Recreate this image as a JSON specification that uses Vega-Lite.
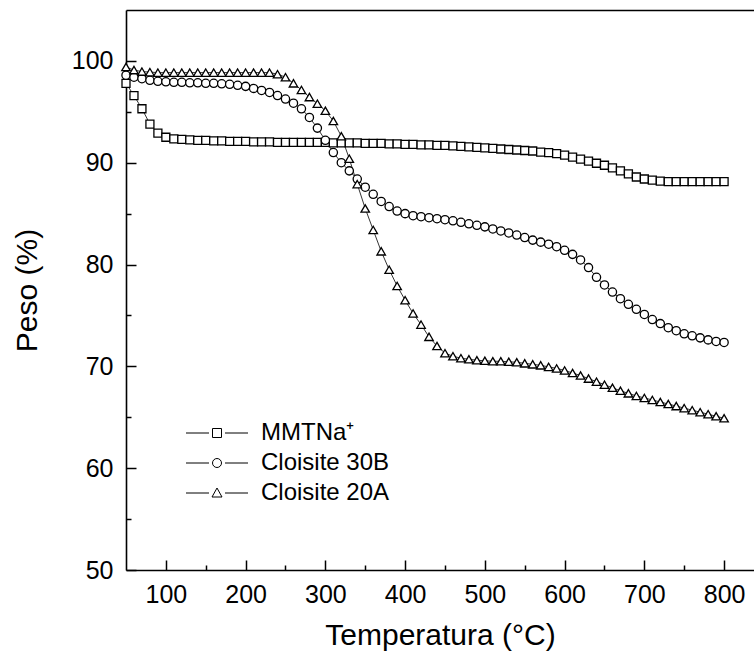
{
"$schema":"https://vega.github.io/schema/vega-lite/v6.json",
"width":628,"height":560,
"autosize":"none",
"padding":{"left":126,"top":10,"right":0,"bottom":86},
"config":{"view":{"stroke":null},"font":"Liberation Sans","background":"white"},
"datasets":{"d":[
{"t":50,"w":97.8,"s":"MMTNa⁺"},{"t":60,"w":96.6,"s":"MMTNa⁺"},{"t":70,"w":95.3,"s":"MMTNa⁺"},{"t":80,"w":93.8,"s":"MMTNa⁺"},{"t":90,"w":92.9,"s":"MMTNa⁺"},{"t":100,"w":92.5,"s":"MMTNa⁺"},{"t":110,"w":92.35,"s":"MMTNa⁺"},{"t":120,"w":92.3,"s":"MMTNa⁺"},{"t":130,"w":92.25,"s":"MMTNa⁺"},{"t":140,"w":92.2,"s":"MMTNa⁺"},{"t":150,"w":92.2,"s":"MMTNa⁺"},{"t":160,"w":92.15,"s":"MMTNa⁺"},{"t":170,"w":92.15,"s":"MMTNa⁺"},{"t":180,"w":92.1,"s":"MMTNa⁺"},{"t":190,"w":92.1,"s":"MMTNa⁺"},{"t":200,"w":92.1,"s":"MMTNa⁺"},{"t":210,"w":92.05,"s":"MMTNa⁺"},{"t":220,"w":92.05,"s":"MMTNa⁺"},{"t":230,"w":92.05,"s":"MMTNa⁺"},{"t":240,"w":92.0,"s":"MMTNa⁺"},{"t":250,"w":92.0,"s":"MMTNa⁺"},{"t":260,"w":92.0,"s":"MMTNa⁺"},{"t":270,"w":92.0,"s":"MMTNa⁺"},{"t":280,"w":92.0,"s":"MMTNa⁺"},{"t":290,"w":92.0,"s":"MMTNa⁺"},{"t":300,"w":92.0,"s":"MMTNa⁺"},{"t":310,"w":91.95,"s":"MMTNa⁺"},{"t":320,"w":91.95,"s":"MMTNa⁺"},{"t":330,"w":91.95,"s":"MMTNa⁺"},{"t":340,"w":91.95,"s":"MMTNa⁺"},{"t":350,"w":91.9,"s":"MMTNa⁺"},{"t":360,"w":91.9,"s":"MMTNa⁺"},{"t":370,"w":91.9,"s":"MMTNa⁺"},{"t":380,"w":91.85,"s":"MMTNa⁺"},{"t":390,"w":91.85,"s":"MMTNa⁺"},{"t":400,"w":91.8,"s":"MMTNa⁺"},{"t":410,"w":91.8,"s":"MMTNa⁺"},{"t":420,"w":91.75,"s":"MMTNa⁺"},{"t":430,"w":91.75,"s":"MMTNa⁺"},{"t":440,"w":91.7,"s":"MMTNa⁺"},{"t":450,"w":91.7,"s":"MMTNa⁺"},{"t":460,"w":91.65,"s":"MMTNa⁺"},{"t":470,"w":91.6,"s":"MMTNa⁺"},{"t":480,"w":91.55,"s":"MMTNa⁺"},{"t":490,"w":91.5,"s":"MMTNa⁺"},{"t":500,"w":91.45,"s":"MMTNa⁺"},{"t":510,"w":91.4,"s":"MMTNa⁺"},{"t":520,"w":91.35,"s":"MMTNa⁺"},{"t":530,"w":91.3,"s":"MMTNa⁺"},{"t":540,"w":91.25,"s":"MMTNa⁺"},{"t":550,"w":91.2,"s":"MMTNa⁺"},{"t":560,"w":91.15,"s":"MMTNa⁺"},{"t":570,"w":91.05,"s":"MMTNa⁺"},{"t":580,"w":91.0,"s":"MMTNa⁺"},{"t":590,"w":90.9,"s":"MMTNa⁺"},{"t":600,"w":90.75,"s":"MMTNa⁺"},{"t":610,"w":90.55,"s":"MMTNa⁺"},{"t":620,"w":90.35,"s":"MMTNa⁺"},{"t":630,"w":90.15,"s":"MMTNa⁺"},{"t":640,"w":89.95,"s":"MMTNa⁺"},{"t":650,"w":89.75,"s":"MMTNa⁺"},{"t":660,"w":89.5,"s":"MMTNa⁺"},{"t":670,"w":89.2,"s":"MMTNa⁺"},{"t":680,"w":88.9,"s":"MMTNa⁺"},{"t":690,"w":88.6,"s":"MMTNa⁺"},{"t":700,"w":88.4,"s":"MMTNa⁺"},{"t":710,"w":88.3,"s":"MMTNa⁺"},{"t":720,"w":88.2,"s":"MMTNa⁺"},{"t":730,"w":88.15,"s":"MMTNa⁺"},{"t":740,"w":88.15,"s":"MMTNa⁺"},{"t":750,"w":88.15,"s":"MMTNa⁺"},{"t":760,"w":88.15,"s":"MMTNa⁺"},{"t":770,"w":88.15,"s":"MMTNa⁺"},{"t":780,"w":88.15,"s":"MMTNa⁺"},{"t":790,"w":88.15,"s":"MMTNa⁺"},{"t":800,"w":88.15,"s":"MMTNa⁺"},
{"t":50,"w":98.6,"s":"Cloisite 30B"},{"t":60,"w":98.4,"s":"Cloisite 30B"},{"t":70,"w":98.25,"s":"Cloisite 30B"},{"t":80,"w":98.1,"s":"Cloisite 30B"},{"t":90,"w":98.0,"s":"Cloisite 30B"},{"t":100,"w":97.95,"s":"Cloisite 30B"},{"t":110,"w":97.9,"s":"Cloisite 30B"},{"t":120,"w":97.9,"s":"Cloisite 30B"},{"t":130,"w":97.85,"s":"Cloisite 30B"},{"t":140,"w":97.85,"s":"Cloisite 30B"},{"t":150,"w":97.8,"s":"Cloisite 30B"},{"t":160,"w":97.8,"s":"Cloisite 30B"},{"t":170,"w":97.75,"s":"Cloisite 30B"},{"t":180,"w":97.7,"s":"Cloisite 30B"},{"t":190,"w":97.6,"s":"Cloisite 30B"},{"t":200,"w":97.5,"s":"Cloisite 30B"},{"t":210,"w":97.3,"s":"Cloisite 30B"},{"t":220,"w":97.1,"s":"Cloisite 30B"},{"t":230,"w":96.9,"s":"Cloisite 30B"},{"t":240,"w":96.6,"s":"Cloisite 30B"},{"t":250,"w":96.25,"s":"Cloisite 30B"},{"t":260,"w":95.85,"s":"Cloisite 30B"},{"t":270,"w":95.3,"s":"Cloisite 30B"},{"t":280,"w":94.45,"s":"Cloisite 30B"},{"t":290,"w":93.4,"s":"Cloisite 30B"},{"t":300,"w":92.2,"s":"Cloisite 30B"},{"t":310,"w":91.0,"s":"Cloisite 30B"},{"t":320,"w":90.0,"s":"Cloisite 30B"},{"t":330,"w":89.2,"s":"Cloisite 30B"},{"t":340,"w":88.4,"s":"Cloisite 30B"},{"t":350,"w":87.6,"s":"Cloisite 30B"},{"t":360,"w":86.9,"s":"Cloisite 30B"},{"t":370,"w":86.2,"s":"Cloisite 30B"},{"t":380,"w":85.7,"s":"Cloisite 30B"},{"t":390,"w":85.25,"s":"Cloisite 30B"},{"t":400,"w":85.0,"s":"Cloisite 30B"},{"t":410,"w":84.8,"s":"Cloisite 30B"},{"t":420,"w":84.7,"s":"Cloisite 30B"},{"t":430,"w":84.6,"s":"Cloisite 30B"},{"t":440,"w":84.5,"s":"Cloisite 30B"},{"t":450,"w":84.4,"s":"Cloisite 30B"},{"t":460,"w":84.3,"s":"Cloisite 30B"},{"t":470,"w":84.15,"s":"Cloisite 30B"},{"t":480,"w":84.0,"s":"Cloisite 30B"},{"t":490,"w":83.85,"s":"Cloisite 30B"},{"t":500,"w":83.7,"s":"Cloisite 30B"},{"t":510,"w":83.5,"s":"Cloisite 30B"},{"t":520,"w":83.3,"s":"Cloisite 30B"},{"t":530,"w":83.1,"s":"Cloisite 30B"},{"t":540,"w":82.9,"s":"Cloisite 30B"},{"t":550,"w":82.65,"s":"Cloisite 30B"},{"t":560,"w":82.4,"s":"Cloisite 30B"},{"t":570,"w":82.2,"s":"Cloisite 30B"},{"t":580,"w":82.0,"s":"Cloisite 30B"},{"t":590,"w":81.75,"s":"Cloisite 30B"},{"t":600,"w":81.4,"s":"Cloisite 30B"},{"t":610,"w":81.0,"s":"Cloisite 30B"},{"t":620,"w":80.45,"s":"Cloisite 30B"},{"t":630,"w":79.7,"s":"Cloisite 30B"},{"t":640,"w":78.75,"s":"Cloisite 30B"},{"t":650,"w":78.0,"s":"Cloisite 30B"},{"t":660,"w":77.3,"s":"Cloisite 30B"},{"t":670,"w":76.65,"s":"Cloisite 30B"},{"t":680,"w":76.1,"s":"Cloisite 30B"},{"t":690,"w":75.6,"s":"Cloisite 30B"},{"t":700,"w":75.1,"s":"Cloisite 30B"},{"t":710,"w":74.6,"s":"Cloisite 30B"},{"t":720,"w":74.2,"s":"Cloisite 30B"},{"t":730,"w":73.8,"s":"Cloisite 30B"},{"t":740,"w":73.5,"s":"Cloisite 30B"},{"t":750,"w":73.2,"s":"Cloisite 30B"},{"t":760,"w":73.0,"s":"Cloisite 30B"},{"t":770,"w":72.8,"s":"Cloisite 30B"},{"t":780,"w":72.6,"s":"Cloisite 30B"},{"t":790,"w":72.45,"s":"Cloisite 30B"},{"t":800,"w":72.35,"s":"Cloisite 30B"},
{"t":50,"w":99.4,"s":"Cloisite 20A"},{"t":60,"w":99.1,"s":"Cloisite 20A"},{"t":70,"w":98.95,"s":"Cloisite 20A"},{"t":80,"w":98.9,"s":"Cloisite 20A"},{"t":90,"w":98.85,"s":"Cloisite 20A"},{"t":100,"w":98.85,"s":"Cloisite 20A"},{"t":110,"w":98.85,"s":"Cloisite 20A"},{"t":120,"w":98.85,"s":"Cloisite 20A"},{"t":130,"w":98.85,"s":"Cloisite 20A"},{"t":140,"w":98.85,"s":"Cloisite 20A"},{"t":150,"w":98.85,"s":"Cloisite 20A"},{"t":160,"w":98.85,"s":"Cloisite 20A"},{"t":170,"w":98.85,"s":"Cloisite 20A"},{"t":180,"w":98.85,"s":"Cloisite 20A"},{"t":190,"w":98.85,"s":"Cloisite 20A"},{"t":200,"w":98.85,"s":"Cloisite 20A"},{"t":210,"w":98.85,"s":"Cloisite 20A"},{"t":220,"w":98.85,"s":"Cloisite 20A"},{"t":230,"w":98.85,"s":"Cloisite 20A"},{"t":240,"w":98.7,"s":"Cloisite 20A"},{"t":250,"w":98.4,"s":"Cloisite 20A"},{"t":260,"w":97.8,"s":"Cloisite 20A"},{"t":270,"w":97.15,"s":"Cloisite 20A"},{"t":280,"w":96.45,"s":"Cloisite 20A"},{"t":290,"w":95.8,"s":"Cloisite 20A"},{"t":300,"w":95.1,"s":"Cloisite 20A"},{"t":310,"w":94.1,"s":"Cloisite 20A"},{"t":320,"w":92.6,"s":"Cloisite 20A"},{"t":330,"w":90.4,"s":"Cloisite 20A"},{"t":340,"w":87.9,"s":"Cloisite 20A"},{"t":350,"w":85.5,"s":"Cloisite 20A"},{"t":360,"w":83.4,"s":"Cloisite 20A"},{"t":370,"w":81.3,"s":"Cloisite 20A"},{"t":380,"w":79.5,"s":"Cloisite 20A"},{"t":390,"w":77.9,"s":"Cloisite 20A"},{"t":400,"w":76.5,"s":"Cloisite 20A"},{"t":410,"w":75.2,"s":"Cloisite 20A"},{"t":420,"w":74.1,"s":"Cloisite 20A"},{"t":430,"w":72.9,"s":"Cloisite 20A"},{"t":440,"w":72.0,"s":"Cloisite 20A"},{"t":450,"w":71.3,"s":"Cloisite 20A"},{"t":460,"w":71.0,"s":"Cloisite 20A"},{"t":470,"w":70.8,"s":"Cloisite 20A"},{"t":480,"w":70.7,"s":"Cloisite 20A"},{"t":490,"w":70.6,"s":"Cloisite 20A"},{"t":500,"w":70.55,"s":"Cloisite 20A"},{"t":510,"w":70.5,"s":"Cloisite 20A"},{"t":520,"w":70.5,"s":"Cloisite 20A"},{"t":530,"w":70.45,"s":"Cloisite 20A"},{"t":540,"w":70.4,"s":"Cloisite 20A"},{"t":550,"w":70.3,"s":"Cloisite 20A"},{"t":560,"w":70.2,"s":"Cloisite 20A"},{"t":570,"w":70.1,"s":"Cloisite 20A"},{"t":580,"w":69.95,"s":"Cloisite 20A"},{"t":590,"w":69.8,"s":"Cloisite 20A"},{"t":600,"w":69.6,"s":"Cloisite 20A"},{"t":610,"w":69.35,"s":"Cloisite 20A"},{"t":620,"w":69.1,"s":"Cloisite 20A"},{"t":630,"w":68.8,"s":"Cloisite 20A"},{"t":640,"w":68.5,"s":"Cloisite 20A"},{"t":650,"w":68.2,"s":"Cloisite 20A"},{"t":660,"w":67.9,"s":"Cloisite 20A"},{"t":670,"w":67.6,"s":"Cloisite 20A"},{"t":680,"w":67.35,"s":"Cloisite 20A"},{"t":690,"w":67.1,"s":"Cloisite 20A"},{"t":700,"w":66.9,"s":"Cloisite 20A"},{"t":710,"w":66.7,"s":"Cloisite 20A"},{"t":720,"w":66.5,"s":"Cloisite 20A"},{"t":730,"w":66.3,"s":"Cloisite 20A"},{"t":740,"w":66.1,"s":"Cloisite 20A"},{"t":750,"w":65.9,"s":"Cloisite 20A"},{"t":760,"w":65.7,"s":"Cloisite 20A"},{"t":770,"w":65.5,"s":"Cloisite 20A"},{"t":780,"w":65.3,"s":"Cloisite 20A"},{"t":790,"w":65.1,"s":"Cloisite 20A"},{"t":800,"w":64.9,"s":"Cloisite 20A"}
]},
"data":{"name":"d"},
"resolve":{"scale":{"shape":"independent"},"axis":{"x":"independent","y":"independent"}},
"layer":[
{"mark":{"type":"line","color":"black","strokeWidth":0.8},
 "encoding":{
  "x":{"field":"t","type":"quantitative","scale":{"domain":[50,837.5],"nice":false,"zero":false},
   "axis":{"orient":"bottom","values":[100,150,200,250,300,350,400,450,500,550,600,650,700,750,800],
    "labelExpr":"datum.value % 100 === 0 ? datum.label : ''",
    "tickSize":{"condition":{"test":"datum.value % 100 === 0","value":-10},"value":-5},
    "tickColor":"black","tickWidth":1.5,"domainColor":"black","domainWidth":1.6,
    "labelFontSize":25,"labelColor":"black","labelPadding":22,"labelFlush":false,
    "title":"Temperatura (°C)","titleFontSize":30,"titleFontWeight":"normal","titleColor":"black","titlePadding":13,"grid":false}},
  "y":{"field":"w","type":"quantitative","scale":{"domain":[50,105],"nice":false,"zero":false},
   "axis":{"orient":"left","values":[50,55,60,65,70,75,80,85,90,95,100],
    "labelExpr":"datum.value % 10 === 0 ? datum.label : ''",
    "tickSize":{"condition":{"test":"datum.value % 10 === 0","value":-10},"value":-5},
    "tickColor":"black","tickWidth":1.5,"domainColor":"black","domainWidth":1.6,
    "labelFontSize":25,"labelColor":"black","labelPadding":23,"labelFlush":false,
    "title":"Peso (%)","titleFontSize":30,"titleFontWeight":"normal","titleColor":"black","titlePadding":29,"grid":false}},
  "detail":{"field":"s"}
 }},
{"mark":{"type":"point","filled":true,"fill":"white","stroke":"black","strokeWidth":1.3,"opacity":1},
 "encoding":{
  "x":{"field":"t","type":"quantitative","axis":null},
  "y":{"field":"w","type":"quantitative","axis":null},
  "shape":{"field":"s","type":"nominal","scale":{"domain":["MMTNa⁺","Cloisite 30B","Cloisite 20A"],"range":["square","circle","triangle-up"]},"legend":null},
  "size":{"field":"s","type":"nominal","scale":{"domain":["MMTNa⁺","Cloisite 30B","Cloisite 20A"],"range":[64,72,90]},"legend":null}
 }},
{"mark":{"type":"point","filled":false,"opacity":0},
 "encoding":{
  "x":{"field":"t","type":"quantitative","axis":{"orient":"top","labels":false,"ticks":false,"domain":true,"domainColor":"black","domainWidth":1.6,"title":null,"grid":false}},
  "y":{"field":"w","type":"quantitative","axis":null},
  "shape":{"field":"s","type":"nominal","title":null,
   "scale":{"domain":["MMTNa⁺","Cloisite 30B","Cloisite 20A"],
    "range":["M-6.2,0H-1.6M1.6,0H6.2M-0.9,-0.9H0.9V0.9H-0.9Z","M-6.2,0H-1.6M1.6,0H6.2M-0.9,0A0.9,0.9 0 1,0 0.9,0A0.9,0.9 0 1,0 -0.9,0Z","M-6.2,0H-1.6M1.6,0H6.2M0,-1L1,0.8H-1Z"]},
   "legend":{"orient":"none","legendX":79,"legendY":411,"padding":0,"symbolSize":100,"symbolStrokeColor":"black","symbolFillColor":"white","symbolStrokeWidth":1,"symbolOpacity":1,
    "labelFontSize":24,"labelColor":"black","labelOffset":32,"rowPadding":6,"labelLimit":300}}
 }}
]
}
